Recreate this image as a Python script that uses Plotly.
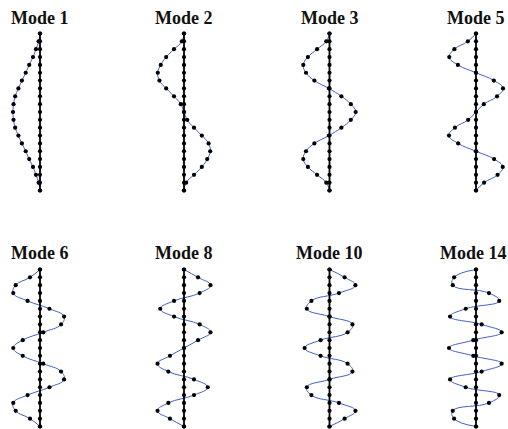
import plotly.graph_objects as go

# Node index along the string (0 and 20 are the fixed ends)
node = list(range(21))

titles = ["Mode 1", "Mode 2", "Mode 3", "Mode 5",
          "Mode 6", "Mode 8", "Mode 10", "Mode 14"]

# Lateral displacement of each node, normalised to the largest swing
mode_1 = [0, -0.05, -0.15, -0.26, -0.40, -0.53, -0.67, -0.80, -0.92, -0.98, -1.00,
          -0.98, -0.92, -0.80, -0.67, -0.53, -0.40, -0.26, -0.15, -0.05, 0]
mode_2 = [0, -0.08, -0.37, -0.66, -0.86, -0.97, -0.91, -0.66, -0.37, -0.12, 0,
          0.12, 0.37, 0.66, 0.91, 0.97, 0.86, 0.66, 0.37, 0.08, 0]
mode_3 = [0, -0.12, -0.46, -0.80, -0.97, -0.87, -0.56, -0.02, 0.44, 0.79, 0.97,
          0.79, 0.44, -0.02, -0.56, -0.87, -0.97, -0.80, -0.46, -0.12, 0]
mode_5 = [0, -0.30, -0.80, -0.99, -0.67, 0, 0.66, 1.00, 0.78, 0.29, 0,
          -0.29, -0.78, -1.00, -0.66, 0, 0.67, 0.99, 0.80, 0.30, 0]
mode_6 = [0, -0.37, -0.90, -0.99, -0.46, 0.35, 0.89, 0.78, 0.12, -0.64, -0.99,
          -0.64, 0.12, 0.78, 0.89, 0.35, -0.46, -0.99, -0.90, -0.37, 0]
mode_8 = [0, 0.52, 0.98, 0.58, -0.37, -0.88, -0.37, 0.58, 0.98, 0.52, 0,
          -0.52, -0.98, -0.58, 0.37, 0.88, 0.37, -0.58, -0.98, -0.52, 0]
mode_10 = [0, 0.56, 0.96, 0.35, -0.67, -0.84, 0.0, 0.85, 0.67, -0.33, -0.92,
           -0.33, 0.67, 0.85, 0.0, -0.84, -0.67, 0.35, 0.96, 0.56, 0]
mode_14 = [0, -0.81, -0.86, 0.48, 0.86, -0.38, -0.96, 0.21, 0.95, -0.10, -1.00,
           -0.10, 0.95, 0.21, -0.96, -0.38, 0.86, 0.48, -0.86, -0.81, 0]

shapes = [mode_1, mode_2, mode_3, mode_5, mode_6, mode_8, mode_10, mode_14]

W, H = 508, 429
PX_PER_UNIT = 27.0
col_center = [40, 184, 329.5, 476]
col_half = [38, 45, 45, 31]
row_top = [33.5, 269.5]
row_bot = [190.5, 426.5]
title_y = [18, 253]

curve_color = "#3f5fc6"

fig = go.Figure()
layout = dict(width=W, height=H, margin=dict(l=0, r=0, t=0, b=0),
              paper_bgcolor="white", plot_bgcolor="white", showlegend=False)
annotations = []

for k, (name, disp) in enumerate(zip(titles, shapes)):
    r, c = divmod(k, 4)
    sfx = "" if k == 0 else str(k + 1)
    xa, ya = "x" + sfx, "y" + sfx

    # displaced string
    fig.add_trace(go.Scatter(
        x=disp, y=node, xaxis=xa, yaxis=ya, mode="lines+markers",
        line=dict(color=curve_color, width=1, shape="spline", smoothing=1.3),
        marker=dict(color="black", size=4.2), cliponaxis=False, hoverinfo="skip"))
    # string at rest
    fig.add_trace(go.Scatter(
        x=[0] * len(node), y=node, xaxis=xa, yaxis=ya, mode="lines+markers",
        line=dict(color="black", width=1.8),
        marker=dict(color="black", size=4.2), cliponaxis=False, hoverinfo="skip"))

    half = col_half[c]
    x0 = (col_center[c] - half) / W
    x1 = (col_center[c] + half) / W
    layout["xaxis" + sfx] = dict(domain=[x0, x1], range=[-half / PX_PER_UNIT, half / PX_PER_UNIT],
                                 visible=False, fixedrange=True, anchor=ya)
    layout["yaxis" + sfx] = dict(domain=[1 - row_bot[r] / H, 1 - row_top[r] / H],
                                 range=[20, 0], visible=False, fixedrange=True, anchor=xa)

    annotations.append(dict(
        text="<b>%s</b>" % name, xref=xa + " domain", x=0.5, yref="paper",
        y=1 - title_y[r] / H, xanchor="center", yanchor="middle", showarrow=False,
        xshift=-3 if name == "Mode 14" else 0,
        font=dict(family="Liberation Serif, Times New Roman, serif", size=18, color="#111")))

layout["annotations"] = annotations
fig.update_layout(**layout)
fig.write_html("out.html")
